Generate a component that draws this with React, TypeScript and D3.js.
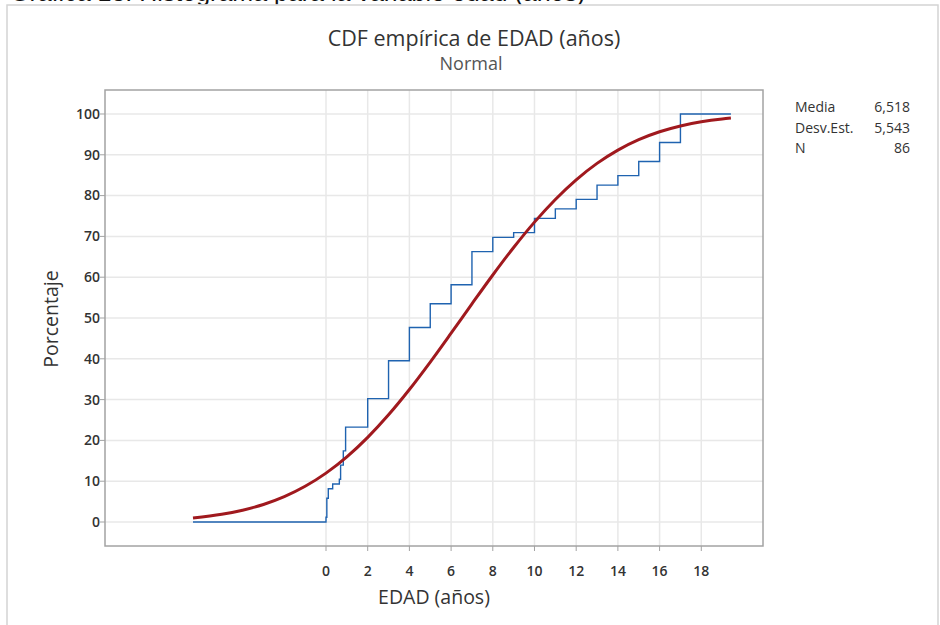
import React from "react";
import * as d3 from "d3";

// Distinct ages (years) and how many observations at each age (N = 86)
const ages = [0, 0.04, 0.11, 0.32, 0.64, 0.7, 0.83, 0.94, 2, 3, 4, 5, 6, 7, 8, 9, 10, 11, 12, 13, 14, 15, 16, 17];
const freqs = [1, 4, 2, 1, 1, 3, 3, 5, 6, 8, 7, 5, 4, 7, 3, 1, 3, 2, 2, 3, 2, 3, 4, 6];
const stepStart = -6.38;
const stepEnd = 19.42;

// Fitted normal CDF, read at these ages (percent)
const fitX = [-6.38, -5, -4, -3, -2, -1, 0, 1, 2, 3, 4, 5, 6, 7, 8, 9, 10, 11, 12, 13, 14, 15, 16, 17, 18, 19, 19.42];
const fitY = [1.0, 1.89, 2.89, 4.3, 6.22, 8.75, 11.98, 15.97, 20.75, 26.28, 32.48, 39.21, 46.28, 53.47, 60.54, 67.28, 73.5, 79.06, 83.87, 87.89, 91.15, 93.7, 95.64, 97.07, 98.08, 98.78, 99.0];

const xTicks = [0, 2, 4, 6, 8, 10, 12, 14, 16, 18];
const yTicks = [0, 10, 20, 30, 40, 50, 60, 70, 80, 90, 100];

const statLabels = ["Media", "Desv.Est.", "N"];
const statValues = ["6,518", "5,543", "86"];

const W = 940, H = 625;
const L = 105, R = 763, T = 90, B = 546;
const font = "'Open Sans', 'Noto Sans', sans-serif";

export default function App() {
  const N = d3.sum(freqs);
  const x = d3.scaleLinear().domain([-10.6, 20.96]).range([L, R]);
  const y = d3.scaleLinear().domain([-5.88, 105.88]).range([B, T]);

  const cum = d3.cumsum(freqs);
  const stepPts: [number, number][] = [[stepStart, 0]];
  ages.forEach((a, i) => stepPts.push([a, (cum[i] / N) * 100]));
  stepPts.push([stepEnd, 100]);
  const stepLine = d3.line<[number, number]>().x(d => x(d[0])).y(d => y(d[1])).curve(d3.curveStepAfter);

  const fitLine = d3.line<number>().x((_, i) => x(fitX[i])).y(d => y(d)).curve(d3.curveMonotoneX);

  return (
    <svg width={W} height={H} style={{ position: "absolute", left: 0, top: 0, background: "#fff" }}>
      <defs>
        <clipPath id="topclip"><rect x={0} y={0} width={W} height={4.5} /></clipPath>
      </defs>
      <text x={10} y={1} fontFamily="'Liberation Sans', Arial, sans-serif" fontSize={25} fill="#111" clipPath="url(#topclip)">
        Gráfica 13. Histograma para la variable edad (años)
      </text>
      <path d={`M7,${H} V5 H938 V${H}`} fill="none" stroke="#d4d4d4" strokeWidth={1.5} />

      {/* grid */}
      {xTicks.map(t => (
        <line key={"gx" + t} x1={x(t)} x2={x(t)} y1={T} y2={B} stroke="#e8e8e8" strokeWidth={1.5} />
      ))}
      {yTicks.map(t => (
        <line key={"gy" + t} x1={L} x2={R} y1={y(t)} y2={y(t)} stroke="#e8e8e8" strokeWidth={1.5} />
      ))}

      {/* data */}
      <path d={stepLine(stepPts) || ""} fill="none" stroke="#1f63b0" strokeWidth={1.4} />
      <path d={fitLine(fitY) || ""} fill="none" stroke="#a0191e" strokeWidth={3} />

      {/* frame */}
      <rect x={L} y={T} width={R - L} height={B - T} fill="none" stroke="#a3a3a3" strokeWidth={1.5} />

      {/* y axis */}
      {yTicks.map(t => (
        <g key={"yt" + t}>
          <line x1={L - 5} x2={L} y1={y(t)} y2={y(t)} stroke="#a3a3a3" strokeWidth={1} />
          <text x={L - 5} y={y(t)} dy="0.35em" textAnchor="end" fontFamily={font} fontSize={14} fontWeight={600} fill="#333">{t}</text>
        </g>
      ))}
      {/* x axis */}
      {xTicks.map(t => (
        <g key={"xt" + t}>
          <line x1={x(t)} x2={x(t)} y1={B} y2={B + 5} stroke="#a3a3a3" strokeWidth={1} />
          <text x={x(t)} y={576} textAnchor="middle" fontFamily={font} fontSize={14} fontWeight={600} fill="#333">{t}</text>
        </g>
      ))}

      <text x={474} y={46} textAnchor="middle" fontFamily={font} fontSize={21.5} fill="#333">CDF empírica de EDAD (años)</text>
      <text x={471} y={70} textAnchor="middle" fontFamily={font} fontSize={18} fill="#555">Normal</text>
      <text x={434} y={604} textAnchor="middle" fontFamily={font} fontSize={19.5} fontWeight={500} fill="#333">EDAD (años)</text>
      <text transform={`translate(58,319) rotate(-90)`} textAnchor="middle" fontFamily={font} fontSize={19.5} fontWeight={500} fill="#333">Porcentaje</text>

      {statLabels.map((s, i) => (
        <g key={s}>
          <text x={795} y={112 + i * 20.5} fontFamily={font} fontSize={14} fill="#333">{s}</text>
          <text x={910} y={112 + i * 20.5} textAnchor="end" fontFamily={font} fontSize={14} fill="#333">{statValues[i]}</text>
        </g>
      ))}
    </svg>
  );
}
